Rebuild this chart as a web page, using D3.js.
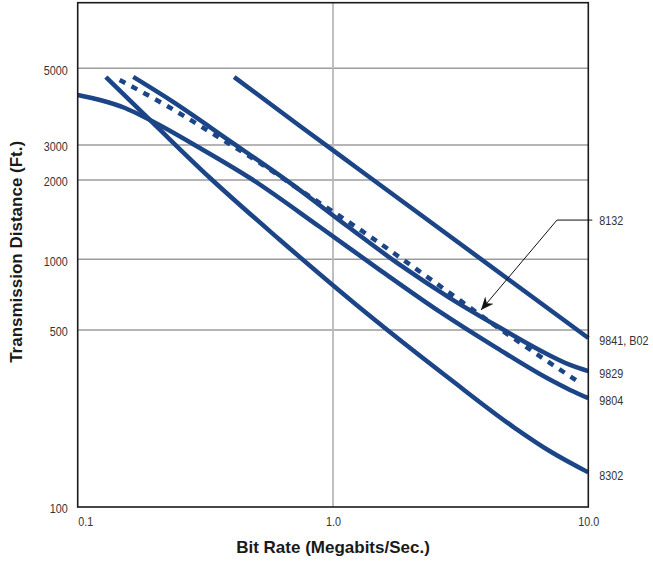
<!DOCTYPE html>
<meta charset="utf-8">

<head>
    <!-- Load d3.js -->
    <script src="https://d3js.org/d3.v7.min.js"></script>
</head>

<body style="margin: 0; background: #fff;">
    <div id="svg_div" style="width: 653px; height: 561px;"></div>
</body>

<style>
    .tick-label {
        font-family: "Liberation Sans", Arial, sans-serif;
        font-size: 13px;
        fill: #333;
    }

    .axis-title {
        font-family: "Liberation Sans", Arial, sans-serif;
        font-weight: bold;
        font-size: 17px;
        fill: #1a1a1a;
    }
</style>

<script>

    // Bit Rate (Megabits/Sec.) on x, Transmission Distance (Ft.) on y
    var x_ticks = [0.1, 1, 10];
    var x_tick_labels = ["0.1", "1.0", "10.0"];
    var y_ticks = [100, 500, 1000, 2000, 3000, 5000];

    var rate_9841 = [0.41, 0.742, 1.242, 2.626, 10];
    var dist_9841 = [4718, 3406, 2298, 1303, 465];

    var rate_9829 = [0.165, 0.23, 0.395, 0.679, 1.135, 1.83, 2.872, 4.39, 6.89, 8.48, 10];
    var dist_9829 = [4720, 4050, 3080, 1950, 1338, 946, 684, 520, 402, 364, 344];

    var rate_8132 = [0.146, 0.224, 0.345, 0.532, 0.723, 1.335, 2.465, 4.51, 9.28];
    var dist_8132 = [4625, 3890, 3206, 2379, 1865, 1258, 808, 505, 309];

    var rate_9804 = [0.1, 0.1223, 0.1532, 0.1919, 0.301, 0.473, 0.889, 1.528, 2.626, 4.39, 6.89, 8.48, 10];
    var dist_9804 = [4186, 4049, 3839, 3543, 2897, 2047, 1326, 900, 597, 424, 323, 290, 269];

    var rate_8302 = [0.129, 0.2045, 0.33, 0.62, 1.46, 2.872, 5.16, 7.08, 10];
    var dist_8302 = [4718, 3383, 2047, 1184, 551, 320, 205, 166, 137];

    // callout for 8132: arrow tip and elbow, in data units
    var callout_tip = [3.8, 608];
    var callout_elbow = [7.54, 1409];

    var line_color = "#1c4587";

    // the print uses a condensed face; squeeze the regular one to match
    function condense(sel) {
        sel.each(function () {
            let w = this.getComputedTextLength();
            d3.select(this)
                .attr("textLength", w * 0.83)
                .attr("lengthAdjust", "spacingAndGlyphs");
        });
    }

    function draw_chart() {

        let margin = { top: 2.7, left: 77.7 };
        let width = 510.6, height = 504.3;

        let svg = d3.select("#svg_div").append("svg")
            .attr("width", 653)
            .attr("height", 561);

        let g = svg.append("g")
            .attr("transform", "translate(" + margin.left + "," + margin.top + ")");

        let x = d3.scaleLog()
            .domain([0.1, 10])
            .range([0, width]);

        // the printed y axis is not evenly spaced, so the log scale is piecewise
        let y = d3.scaleLog()
            .domain([100, 500, 1000, 2000, 3000, 5000, 8000])
            .range([height, 327.3, 256.6, 177.3, 142.3, 65.6, 0]);

        // grid
        g.append("g")
            .selectAll("line")
            .data(y_ticks.filter(d => d > 100))
            .enter().append("line")
            .attr("x1", 0).attr("x2", width)
            .attr("y1", d => y(d)).attr("y2", d => y(d))
            .attr("stroke", "#9c9c9c")
            .attr("stroke-width", 1.5);

        g.append("line")
            .attr("x1", x(1)).attr("x2", x(1))
            .attr("y1", 0).attr("y2", height)
            .attr("stroke", "#b8b8b8")
            .attr("stroke-width", 1.8);

        // tick labels
        g.append("g")
            .attr("transform", "translate(0," + height + ")")
            .call(d3.axisBottom(x).tickValues(x_ticks).tickSize(0).tickPadding(10)
                .tickFormat((d, i) => x_tick_labels[i]))
            .call(a => a.select(".domain").remove())
            .selectAll("text")
            .attr("class", "tick-label")
            .attr("text-anchor", (d, i) => i == 0 ? "start" : "middle")
            .call(condense);

        g.append("g")
            .call(d3.axisLeft(y).tickValues(y_ticks).tickSize(0).tickPadding(10)
                .tickFormat(d3.format("d")))
            .call(a => a.select(".domain").remove())
            .selectAll("text")
            .attr("class", "tick-label")
            .attr("dy", "0.45em")
            .call(condense);

        // curves
        let series = [
            { name: "9841, B02", rate: rate_9841, dist: dist_9841 },
            { name: "9829", rate: rate_9829, dist: dist_9829 },
            { name: "8132", rate: rate_8132, dist: dist_8132, dashed: true },
            { name: "9804", rate: rate_9804, dist: dist_9804 },
            { name: "8302", rate: rate_8302, dist: dist_8302 },
        ];

        let line = d3.line()
            .x(d => x(d[0]))
            .y(d => y(d[1]))
            .curve(d3.curveMonotoneX);

        series.forEach(s => {
            let pts = s.rate.map((r, i) => [r, s.dist[i]]);
            g.append("path")
                .datum(pts)
                .attr("d", line)
                .attr("fill", "none")
                .attr("stroke", line_color)
                .attr("stroke-width", 4.5)
                .attr("stroke-dasharray", s.dashed ? "6.5,7" : null);

            if (!s.dashed) {
                g.append("text")
                    .attr("class", "tick-label")
                    .attr("x", width + 11)
                    .attr("y", y(s.dist[s.dist.length - 1]))
                    .attr("dy", "0.55em")
                    .text(s.name)
                    .call(condense);
            }
        });

        // frame
        g.append("rect")
            .attr("width", width)
            .attr("height", height)
            .attr("fill", "none")
            .attr("stroke", "#1a1a1a")
            .attr("stroke-width", 1.6);

        // 8132 callout
        svg.append("defs").append("marker")
            .attr("id", "arrow")
            .attr("markerUnits", "userSpaceOnUse")
            .attr("viewBox", "-13 -6 14 12")
            .attr("refX", 0).attr("refY", 0)
            .attr("markerWidth", 14).attr("markerHeight", 12)
            .attr("orient", "auto")
            .append("path")
            .attr("d", "M0,0 L-13,-5.5 L-9,0 L-13,5.5 Z")
            .attr("fill", "#111");

        let ex = x(callout_elbow[0]), ey = y(callout_elbow[1]);
        g.append("line")
            .attr("x1", ex).attr("y1", ey)
            .attr("x2", width + 4).attr("y2", ey)
            .attr("stroke", "#111").attr("stroke-width", 1);
        g.append("line")
            .attr("x1", ex).attr("y1", ey)
            .attr("x2", x(callout_tip[0])).attr("y2", y(callout_tip[1]))
            .attr("stroke", "#111").attr("stroke-width", 1)
            .attr("marker-end", "url(#arrow)");
        g.append("text")
            .attr("class", "tick-label")
            .attr("x", width + 11)
            .attr("y", ey)
            .attr("dy", "0.35em")
            .text("8132")
            .call(condense);

        // axis titles
        svg.append("text")
            .attr("class", "axis-title")
            .attr("text-anchor", "middle")
            .attr("x", margin.left + x(1))
            .attr("y", 553)
            .text("Bit Rate (Megabits/Sec.)");

        svg.append("text")
            .attr("class", "axis-title")
            .attr("text-anchor", "middle")
            .attr("transform", "translate(22," + (margin.top + height / 2 - 3) + ") rotate(-90)")
            .text("Transmission Distance (Ft.)");
    }

    draw_chart();

</script>
